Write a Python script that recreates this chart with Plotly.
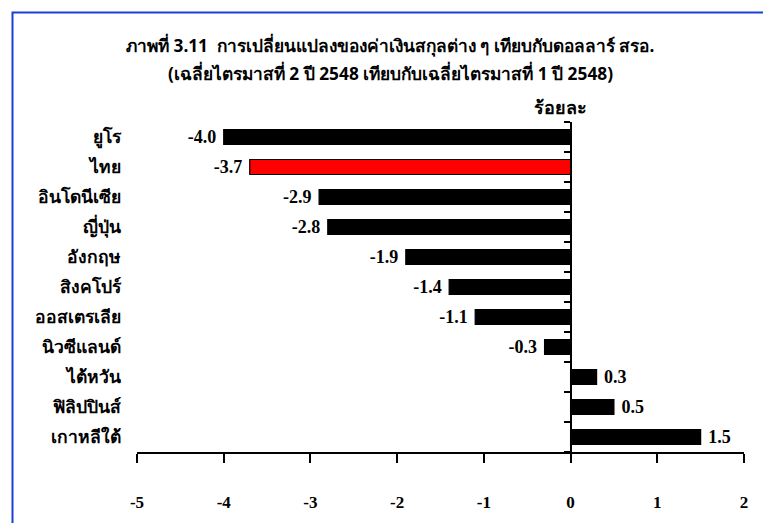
import plotly.graph_objects as go

# Currency change vs USD, Q2/2548 average vs Q1/2548 average (percent)
countries = ["ยูโร", "ไทย", "อินโดนีเซีย", "ญี่ปุ่น", "อังกฤษ", "สิงคโปร์",
             "ออสเตรเลีย", "นิวซีแลนด์", "ไต้หวัน", "ฟิลิปปินส์", "เกาหลีใต้"]
change_pct = [-4.0, -3.7, -2.9, -2.8, -1.9, -1.4, -1.1, -0.3, 0.3, 0.5, 1.5]
highlight = "ไทย"
x_ticks = [-5, -4, -3, -2, -1, 0, 1, 2]

title_line1 = "ภาพที่ 3.11  การเปลี่ยนแปลงของค่าเงินสกุลต่าง ๆ เทียบกับดอลลาร์ สรอ."
title_line2 = "(เฉลี่ยไตรมาสที่ 2 ปี 2548 เทียบกับเฉลี่ยไตรมาสที่ 1 ปี 2548)"
unit_label = "ร้อยละ"

W, H = 763, 523
L, R, T, B = 137, 19, 122, 71
plot_w = W - L - R
plot_h = H - T - B

THAI_FONT = "Noto Sans"
NUM_FONT = "Liberation Serif"

bar_colors = ["#ff0000" if c == highlight else "#000000" for c in countries]
# a non-breaking space keeps a small gap between each value and its bar
NBSP = "\u00a0"
labels = [f"{v:.1f}{NBSP}" if v < 0 else f"{NBSP}{v:.1f}" for v in change_pct]

fig = go.Figure()
fig.add_trace(go.Bar(
    x=change_pct, y=countries, orientation="h",
    marker=dict(color=bar_colors, line=dict(color="#000000", width=1.2)),
    width=0.5,
    text=labels, textposition="outside", cliponaxis=False,
    constraintext="none",
    textfont=dict(family=NUM_FONT, size=18, color="#000000"),
    texttemplate="<b>%{text}</b>",
    hoverinfo="skip",
))
# carrier trace for the zero-line axis with category-boundary ticks
fig.add_trace(go.Scatter(
    x=[0], y=[0], yaxis="y2", mode="markers",
    marker=dict(opacity=0), hoverinfo="skip", showlegend=False,
))

n = len(countries)
zero_pos = (0 - x_ticks[0]) / (x_ticks[-1] - x_ticks[0])


def px_x(px):
    return (px - L) / plot_w


def px_y(py):
    return (H - B - py) / plot_h


fig.update_layout(
    width=W, height=H,
    margin=dict(l=L, r=R, t=T, b=B),
    paper_bgcolor="#ffffff", plot_bgcolor="#ffffff",
    showlegend=False,
    bargap=0.5,
    xaxis=dict(
        range=[x_ticks[0], x_ticks[-1]], tickvals=x_ticks,
        ticktext=[f"<b>{v}</b>" for v in x_ticks],
        showgrid=False, zeroline=False,
        showline=True, linecolor="#000000", linewidth=1.5,
        ticks="outside", ticklen=9, tickwidth=1.5, tickcolor="#000000",
        ticklabelstandoff=25,
        tickfont=dict(family=NUM_FONT, size=17, color="#000000"),
    ),
    yaxis=dict(
        categoryorder="array", categoryarray=countries,
        range=[n - 0.5, -0.5],
        showgrid=False, zeroline=False, showline=False,
        # invisible ticks push the country names away from the plot edge
        ticks="outside", ticklen=12, tickcolor="rgba(0,0,0,0)",
        ticktext=[f"<b>{c}</b>" for c in countries], tickvals=countries,
        tickfont=dict(family=THAI_FONT, size=17.5, color="#000000"),
    ),
    yaxis2=dict(
        overlaying="y", anchor="free", position=zero_pos, side="left",
        range=[n - 0.5, -0.5],
        tickvals=[i - 0.5 for i in range(n + 1)],
        showticklabels=False, showgrid=False, zeroline=False,
        showline=True, linecolor="#000000", linewidth=1.5,
        ticks="outside", ticklen=6, tickwidth=1.5, tickcolor="#000000",
    ),
    annotations=[
        dict(text=f"<b>{title_line1}</b>", x=px_x(390), xref="paper",
             y=px_y(45), yref="paper", xanchor="center", yanchor="middle",
             showarrow=False,
             font=dict(family=THAI_FONT, size=17.3, color="#000000")),
        dict(text=f"<b>{title_line2}</b>", x=px_x(390), xref="paper",
             y=px_y(73), yref="paper", xanchor="center", yanchor="middle",
             showarrow=False,
             font=dict(family=THAI_FONT, size=17.3, color="#000000")),
        dict(text=f"<b>{unit_label}</b>", x=0, xref="x", xshift=-10,
             y=px_y(107), yref="paper", xanchor="center", yanchor="middle",
             showarrow=False,
             font=dict(family=THAI_FONT, size=18, color="#000000")),
    ],
    shapes=[dict(
        type="rect", xref="paper", yref="paper",
        x0=px_x(12.5), x1=px_x(W + 20),
        y0=px_y(H + 20), y1=px_y(12.5),
        line=dict(color="#1a3fd8", width=2), layer="below",
    )],
)

fig.write_html("out.html")
